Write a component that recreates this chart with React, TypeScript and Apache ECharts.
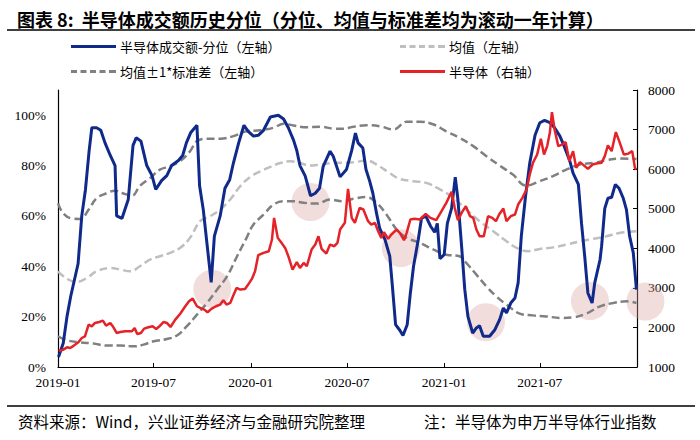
import React, { useEffect, useRef } from "react";
import * as echarts from "echarts";

const xTickLabels = ["2019-01", "2019-07", "2020-01", "2020-07", "2021-01", "2021-07"];

const seriesNames = ["半导体成交额-分位（左轴）", "均值（左轴）", "均值±1*标准差（左轴）", "半导体（右轴）"];

// 半导体成交额-分位 (%)
const turnoverPct: [string, number][] = [
  ["2019-01-02", 4], ["2019-01-11", 9.5], ["2019-01-18", 20], ["2019-01-25", 28], ["2019-02-08", 41],
  ["2019-02-15", 60], ["2019-02-22", 70.5], ["2019-03-01", 86], ["2019-03-06", 95], ["2019-03-15", 95],
  ["2019-03-23", 94], ["2019-03-31", 89], ["2019-04-10", 84], ["2019-04-19", 80], ["2019-04-22", 60],
  ["2019-05-02", 59], ["2019-05-14", 66.5], ["2019-05-23", 88], ["2019-05-29", 91], ["2019-06-07", 89.7],
  ["2019-06-18", 80], ["2019-06-28", 76], ["2019-07-05", 70.5], ["2019-07-16", 74], ["2019-07-26", 76],
  ["2019-08-04", 80], ["2019-08-17", 82], ["2019-08-25", 84], ["2019-09-01", 89], ["2019-09-09", 93],
  ["2019-09-21", 96], ["2019-09-26", 72], ["2019-10-03", 62.5], ["2019-10-10", 49], ["2019-10-18", 33.6],
  ["2019-10-24", 52], ["2019-11-04", 60], ["2019-11-13", 71], ["2019-11-22", 74.4], ["2019-11-29", 81],
  ["2019-12-09", 89], ["2019-12-19", 96], ["2019-12-27", 93.6], ["2020-01-06", 91.7], ["2020-01-15", 92],
  ["2020-01-25", 94], ["2020-02-07", 99.3], ["2020-02-22", 100], ["2020-03-03", 98.5], ["2020-03-12", 95],
  ["2020-03-22", 90], ["2020-03-28", 86], ["2020-04-03", 80], ["2020-04-13", 75.8], ["2020-04-23", 68],
  ["2020-05-02", 69], ["2020-05-10", 71], ["2020-05-17", 79.7], ["2020-05-30", 85.7], ["2020-06-05", 83.7],
  ["2020-06-18", 75.5], ["2020-06-30", 78.4], ["2020-07-10", 86], ["2020-07-17", 92.9], ["2020-07-22", 89],
  ["2020-07-31", 87], ["2020-08-06", 78.4], ["2020-08-13", 73.8], ["2020-08-19", 69], ["2020-08-26", 61],
  ["2020-09-01", 55], ["2020-09-11", 50.6], ["2020-09-20", 44], ["2020-09-25", 32], ["2020-10-01", 16.8],
  ["2020-10-09", 14.6], ["2020-10-15", 12.5], ["2020-10-23", 16.8], ["2020-10-29", 29.4], ["2020-11-04", 40],
  ["2020-11-13", 50.6], ["2020-11-19", 59], ["2020-11-27", 60], ["2020-12-06", 56], ["2020-12-14", 53.5],
  ["2020-12-19", 57], ["2020-12-24", 43], ["2021-01-01", 44.6], ["2021-01-07", 57], ["2021-01-15", 63],
  ["2021-01-22", 75.4], ["2021-01-27", 66.5], ["2021-02-03", 47.9], ["2021-02-09", 30.7], ["2021-02-15", 20],
  ["2021-02-24", 13.5], ["2021-03-03", 15.5], ["2021-03-09", 16.4], ["2021-03-16", 12.2], ["2021-03-28", 12.2],
  ["2021-04-07", 14.8], ["2021-04-16", 18.8], ["2021-04-23", 23.4], ["2021-04-29", 21.5], ["2021-05-07", 25.4],
  ["2021-05-15", 27.4], ["2021-05-21", 33.4], ["2021-05-27", 52], ["2021-06-04", 67.8], ["2021-06-12", 81],
  ["2021-06-22", 92], ["2021-07-01", 97], ["2021-07-10", 97.9], ["2021-07-20", 97], ["2021-07-29", 95],
  ["2021-08-08", 91.7], ["2021-08-15", 88.3], ["2021-08-27", 81.7], ["2021-09-02", 77], ["2021-09-12", 72.5],
  ["2021-09-18", 57], ["2021-09-24", 44], ["2021-09-30", 29.4], ["2021-10-08", 25.4], ["2021-10-13", 33.4],
  ["2021-10-23", 42.6], ["2021-10-26", 48], ["2021-11-01", 63], ["2021-11-07", 67], ["2021-11-14", 67.4],
  ["2021-11-21", 72.5], ["2021-11-28", 71], ["2021-12-06", 67], ["2021-12-12", 62.5], ["2021-12-18", 52],
  ["2021-12-25", 45.3], ["2021-12-31", 30.7],
];

// 均值 (%)
const meanPct: [string, number][] = [
  ["2019-01-01", 38], ["2019-01-18", 35], ["2019-02-06", 33.8], ["2019-02-25", 35.4], ["2019-03-15", 38],
  ["2019-04-10", 39.3], ["2019-04-29", 38.7], ["2019-05-17", 38], ["2019-06-05", 40], ["2019-06-24", 42.6],
  ["2019-07-13", 44], ["2019-08-01", 45.3], ["2019-08-20", 47.3], ["2019-09-08", 51.3], ["2019-09-27", 57.9],
  ["2019-10-16", 59.9], ["2019-11-04", 62.5], ["2019-11-23", 66.5], ["2019-12-12", 71.8], ["2019-12-31", 75.5],
  ["2020-01-19", 77.7], ["2020-02-07", 79.5], ["2020-02-26", 81], ["2020-03-16", 81.7], ["2020-04-03", 81],
  ["2020-04-22", 80], ["2020-05-11", 80.4], ["2020-06-05", 81], ["2020-07-13", 81.3], ["2020-08-07", 82],
  ["2020-08-26", 80.4], ["2020-09-20", 77], ["2020-10-09", 74.7], ["2020-11-03", 73.8], ["2020-11-28", 73.1],
  ["2020-12-24", 70.5], ["2021-01-18", 67.2], ["2021-02-12", 62.5], ["2021-03-09", 57.9], ["2021-04-04", 53.9],
  ["2021-04-29", 49.9], ["2021-05-18", 47.3], ["2021-06-09", 46], ["2021-07-01", 46.9], ["2021-07-26", 47.5],
  ["2021-08-20", 48.6], ["2021-09-15", 49.9], ["2021-10-10", 50.9], ["2021-11-04", 51.9], ["2021-11-29", 53.2],
  ["2021-12-31", 53.9],
];

// 均值 + 1*标准差 (%)
const upperPct: [string, number][] = [
  ["2019-01-01", 65], ["2019-01-11", 61], ["2019-01-27", 59], ["2019-02-12", 58.8], ["2019-02-28", 62.5],
  ["2019-03-15", 67], ["2019-04-03", 69], ["2019-04-19", 70], ["2019-05-05", 68.9], ["2019-05-21", 68],
  ["2019-06-05", 71.9], ["2019-06-24", 75], ["2019-07-13", 78.4], ["2019-08-01", 79.7], ["2019-08-20", 81.7],
  ["2019-09-08", 85.7], ["2019-09-21", 89.7], ["2019-10-10", 90.6], ["2019-11-04", 90.6], ["2019-11-29", 91.7],
  ["2019-12-24", 93.6], ["2020-01-19", 94], ["2020-02-13", 95], ["2020-03-03", 96.6], ["2020-03-22", 95.9],
  ["2020-04-16", 95.2], ["2020-05-11", 95.4], ["2020-06-05", 94.7], ["2020-06-24", 94.6], ["2020-07-13", 95.4],
  ["2020-08-07", 96], ["2020-09-01", 95.6], ["2020-09-27", 94.3], ["2020-10-22", 97.4], ["2020-11-16", 97.4],
  ["2020-12-12", 96.3], ["2021-01-05", 93.6], ["2021-01-30", 91], ["2021-02-25", 87.7], ["2021-03-22", 83.7],
  ["2021-04-16", 80], ["2021-05-11", 76.4], ["2021-06-05", 72], ["2021-07-01", 73.8], ["2021-07-26", 75.8],
  ["2021-08-20", 78.4], ["2021-09-15", 80.4], ["2021-10-10", 81], ["2021-11-04", 82.1], ["2021-11-29", 82.8],
  ["2021-12-31", 82.6],
];

// 均值 - 1*标准差 (%)
const lowerPct: [string, number][] = [
  ["2019-01-01", 12.2], ["2019-01-18", 10.6], ["2019-02-12", 9.8], ["2019-03-09", 9.3], ["2019-04-03", 8.5],
  ["2019-04-29", 8.5], ["2019-05-24", 8.2], ["2019-06-12", 8.9], ["2019-07-01", 10.2], ["2019-07-26", 11.1],
  ["2019-08-14", 12.5], ["2019-09-02", 16.2], ["2019-09-21", 20.8], ["2019-10-10", 25.4], ["2019-10-29", 30.7],
  ["2019-11-17", 36], ["2019-12-06", 44], ["2019-12-24", 51.3], ["2020-01-06", 56.6], ["2020-01-25", 60.5],
  ["2020-02-13", 64.5], ["2020-03-03", 65.8], ["2020-03-22", 65.8], ["2020-04-10", 65.2], ["2020-05-05", 64.9],
  ["2020-05-30", 66.5], ["2020-06-24", 65.8], ["2020-07-13", 66.8], ["2020-08-07", 67.5], ["2020-08-26", 65.2],
  ["2020-09-14", 60.5], ["2020-10-03", 54.6], ["2020-10-22", 51.3], ["2020-11-16", 49.3], ["2020-12-12", 46.6],
  ["2021-01-05", 44.6], ["2021-01-30", 44], ["2021-02-12", 41.3], ["2021-03-03", 36.7], ["2021-03-22", 32],
  ["2021-04-10", 28], ["2021-04-29", 24.8], ["2021-05-24", 21.2], ["2021-06-18", 20.5], ["2021-07-13", 20.1],
  ["2021-08-08", 19.5], ["2021-09-02", 19.7], ["2021-09-27", 21.2], ["2021-10-23", 24.1], ["2021-11-17", 25.4],
  ["2021-12-12", 26.1], ["2021-12-31", 25.4],
];

// 申万半导体指数 (右轴)
const semiIndex: [string, number][] = [
  ["2019-01-02", 1413], ["2019-01-11", 1438], ["2019-01-18", 1497], ["2019-01-24", 1480], ["2019-01-31", 1540],
  ["2019-02-09", 1632], ["2019-02-15", 1733], ["2019-02-21", 1776], ["2019-02-28", 2071], ["2019-03-06", 2029],
  ["2019-03-12", 2113], ["2019-03-20", 2138], ["2019-03-27", 2172], ["2019-04-02", 2046], ["2019-04-10", 2113],
  ["2019-04-16", 2003], ["2019-04-22", 1860], ["2019-04-29", 1885], ["2019-05-08", 1902], ["2019-05-21", 1902],
  ["2019-05-26", 1987], ["2019-05-31", 1835], ["2019-06-07", 1860], ["2019-06-13", 1970], ["2019-06-21", 2003],
  ["2019-06-29", 2029], ["2019-07-06", 1961], ["2019-07-12", 2029], ["2019-07-20", 2138], ["2019-07-26", 2113],
  ["2019-08-02", 2012], ["2019-08-11", 2197], ["2019-08-20", 2341], ["2019-08-30", 2535], ["2019-09-06", 2661],
  ["2019-09-13", 2728], ["2019-09-21", 2535], ["2019-09-27", 2492], ["2019-10-05", 2450], ["2019-10-11", 2383],
  ["2019-10-19", 2476], ["2019-10-27", 2535], ["2019-11-04", 2577], ["2019-11-10", 2686], ["2019-11-16", 2577],
  ["2019-11-23", 2619], ["2019-11-29", 2813], ["2019-12-05", 2998], ["2019-12-12", 2956], ["2019-12-21", 2973],
  ["2019-12-27", 3083], ["2020-01-03", 3226], ["2020-01-09", 3420], ["2020-01-15", 3825], ["2020-01-25", 3884],
  ["2020-02-04", 3926], ["2020-02-10", 4221], ["2020-02-14", 4769], ["2020-02-21", 4263], ["2020-02-28", 4137],
  ["2020-03-06", 4010], ["2020-03-12", 3799], ["2020-03-20", 3462], ["2020-03-28", 3648], ["2020-04-03", 3504],
  ["2020-04-10", 3631], ["2020-04-16", 3546], ["2020-04-25", 3968], ["2020-05-02", 4094], ["2020-05-08", 4305],
  ["2020-05-14", 3985], ["2020-05-23", 3867], ["2020-05-30", 4094], ["2020-06-07", 4052], ["2020-06-13", 4137],
  ["2020-06-18", 4474], ["2020-06-27", 4643], ["2020-07-03", 5503], ["2020-07-10", 4769], ["2020-07-16", 4643],
  ["2020-07-25", 5022], ["2020-08-01", 4980], ["2020-08-10", 4685], ["2020-08-16", 4600], ["2020-08-23", 4643],
  ["2020-08-29", 4432], ["2020-09-04", 4263], ["2020-09-09", 4406], ["2020-09-17", 4238], ["2020-09-23", 4347],
  ["2020-10-03", 4474], ["2020-10-09", 4390], ["2020-10-17", 4204], ["2020-10-22", 4390], ["2020-10-29", 4727],
  ["2020-11-06", 4744], ["2020-11-16", 4727], ["2020-11-27", 4870], ["2020-12-06", 4769], ["2020-12-17", 4710],
  ["2020-12-27", 4938], ["2021-01-05", 5148], ["2021-01-15", 5427], ["2021-01-21", 5022], ["2021-01-27", 4710],
  ["2021-02-03", 4895], ["2021-02-11", 5064], ["2021-02-19", 4811], ["2021-02-25", 4769], ["2021-03-03", 4474],
  ["2021-03-09", 4305], ["2021-03-17", 4305], ["2021-03-25", 4811], ["2021-04-02", 4769], ["2021-04-09", 4685],
  ["2021-04-15", 4853], ["2021-04-23", 5005], ["2021-04-29", 4685], ["2021-05-07", 4811], ["2021-05-15", 4853],
  ["2021-05-21", 5106], ["2021-05-29", 5275], ["2021-06-06", 5486], ["2021-06-12", 5865], ["2021-06-18", 6160],
  ["2021-06-26", 6371], ["2021-07-03", 6767], ["2021-07-09", 6371], ["2021-07-15", 6582], ["2021-07-20", 6919],
  ["2021-07-24", 7442], ["2021-07-29", 7003], ["2021-08-05", 6582], ["2021-08-13", 6624], ["2021-08-19", 6683],
  ["2021-08-26", 6202], ["2021-09-02", 6455], ["2021-09-08", 6034], ["2021-09-15", 6177], ["2021-09-24", 6076],
  ["2021-09-30", 6008], ["2021-10-09", 6118], ["2021-10-16", 6143], ["2021-10-26", 6160], ["2021-11-01", 6329],
  ["2021-11-07", 6599], ["2021-11-14", 6455], ["2021-11-22", 6936], ["2021-11-29", 6683], ["2021-12-07", 6371],
  ["2021-12-15", 6388], ["2021-12-23", 6455], ["2021-12-28", 6034], ["2021-12-31", 5991],
];

// highlighted low-percentile spots (left axis, %)
const highlightSpots: [string, number][] = [
  ["2019-10-20", 31], ["2020-04-23", 65.5], ["2020-10-11", 47.2],
  ["2021-03-21", 17.8], ["2021-10-04", 26.2], ["2022-01-17", 26],
];

const titleText = "图表 8:  半导体成交额历史分位（分位、均值与标准差均为滚动一年计算）";
const sourceText = "资料来源：Wind，兴业证券经济与金融研究院整理";
const noteText = "注：半导体为申万半导体行业指数";

const dateTs = (s: string) => {
  const [y, m, d] = s.split("-").map(Number);
  return new Date(y, m - 1, d || 1).getTime();
};
const toXY = (arr: [string, number][]) => arr.map(([d, v]) => [dateTs(d), v]);

const solidIcon = "path://M0,0h45v3h-45z";
const dashIcon = "path://M0,0h6v3h-6zM9.5,0h6v3h-6zM19,0h6v3h-6zM28.5,0h6v3h-6zM38,0h7v3h-7z";

export default function App() {
  const ref = useRef<HTMLDivElement>(null);
  useEffect(() => {
    if (!ref.current) return;
    const chart = echarts.init(ref.current, undefined, { renderer: "svg" });
    const tickValues = xTickLabels.map(dateTs);
    const serif = "'Liberation Serif', 'Times New Roman', serif";
    const cjk = "'Noto Sans CJK SC', sans-serif";
    const legendCommon = {
      orient: "horizontal",
      itemWidth: 45,
      itemHeight: 3,
      itemGap: 0,
      padding: 0,
      textStyle: { fontSize: 13, color: "#000", fontFamily: cjk, padding: [0, 0, 0, -1] },
      selectedMode: false,
    };
    chart.setOption({
      animation: false,
      backgroundColor: "#fff",
      title: {
        text: titleText,
        left: 17,
        top: 10,
        padding: 0,
        textStyle: { fontSize: 18, fontWeight: "bold", color: "#000", fontFamily: cjk },
      },
      legend: [
        { ...legendCommon, left: 71, top: 40, data: [{ name: seriesNames[0], icon: solidIcon }] },
        { ...legendCommon, left: 400, top: 40, data: [{ name: seriesNames[1], icon: dashIcon }] },
        { ...legendCommon, left: 71, top: 65, data: [{ name: seriesNames[2], icon: dashIcon }] },
        { ...legendCommon, left: 400, top: 65, data: [{ name: seriesNames[3], icon: solidIcon }] },
      ],
      graphic: [
        { type: "line", shape: { x1: 7, y1: 30, x2: 695, y2: 30 }, style: { stroke: "#000", lineWidth: 1.5 } },
        { type: "line", shape: { x1: 7, y1: 406, x2: 695, y2: 406 }, style: { stroke: "#000", lineWidth: 1.5 } },
        {
          type: "text", left: 18, top: 413,
          style: { text: sourceText, fontSize: 15.5, fill: "#000", fontFamily: cjk },
        },
        {
          type: "text", left: 424, top: 413,
          style: { text: noteText, fontSize: 15.5, fill: "#000", fontFamily: cjk },
        },
      ],
      grid: { left: 58, right: 63, top: 90, height: 277, containLabel: false },
      xAxis: {
        type: "value",
        min: dateTs("2019-01-01"),
        max: dateTs("2022-01-01"),
        axisLine: { show: true, lineStyle: { color: "#000", width: 1.2 } },
        axisTick: { show: true, inside: true, length: 4, customValues: tickValues, lineStyle: { color: "#000" } },
        axisLabel: {
          customValues: tickValues,
          margin: 8,
          fontSize: 13.5,
          color: "#000",
          fontFamily: serif,
          formatter: (v: number) => {
            const d = new Date(v);
            return `${d.getFullYear()}-${String(d.getMonth() + 1).padStart(2, "0")}`;
          },
        },
        splitLine: { show: false },
      },
      yAxis: [
        {
          type: "value",
          min: 0,
          max: 110,
          interval: 20,
          position: "left",
          axisLine: { show: true, lineStyle: { color: "#000", width: 1.2 } },
          axisTick: { show: false },
          splitLine: { show: false },
          axisLabel: {
            margin: 12,
            fontSize: 13.5,
            color: "#000",
            fontFamily: serif,
            formatter: (v: number) => (v > 100 ? "" : `${v}%`),
          },
        },
        {
          type: "value",
          min: 1000,
          max: 8000,
          interval: 1000,
          position: "right",
          axisLine: { show: true, lineStyle: { color: "#000", width: 1.2 } },
          axisTick: { show: true, inside: true, length: 4, lineStyle: { color: "#000" } },
          splitLine: { show: false },
          axisLabel: {
            margin: 11,
            fontSize: 13.5,
            color: "#000",
            fontFamily: serif,
            formatter: (v: number) => String(v),
          },
        },
      ],
      series: [
        {
          type: "scatter",
          name: "spots",
          data: toXY(highlightSpots),
          yAxisIndex: 0,
          symbol: "circle",
          symbolSize: 38,
          clip: false,
          silent: true,
          itemStyle: { color: "rgba(220,160,160,0.45)" },
        },
        {
          type: "line",
          name: seriesNames[1],
          data: toXY(meanPct),
          yAxisIndex: 0,
          symbol: "none",
          smooth: 0.4,
          lineStyle: { color: "#bfbfbf", width: 2.5, type: [8, 4] },
          itemStyle: { color: "#bfbfbf" },
        },
        {
          type: "line",
          name: seriesNames[2],
          data: toXY(upperPct),
          yAxisIndex: 0,
          symbol: "none",
          smooth: 0.4,
          lineStyle: { color: "#808080", width: 2.5, type: [8, 4] },
          itemStyle: { color: "#808080" },
        },
        {
          type: "line",
          name: seriesNames[2],
          data: toXY(lowerPct),
          yAxisIndex: 0,
          symbol: "none",
          smooth: 0.4,
          lineStyle: { color: "#808080", width: 2.5, type: [8, 4] },
          itemStyle: { color: "#808080" },
        },
        {
          type: "line",
          name: seriesNames[0],
          data: toXY(turnoverPct),
          yAxisIndex: 0,
          symbol: "none",
          lineStyle: { color: "#0f2a8a", width: 3 },
          itemStyle: { color: "#0f2a8a" },
        },
        {
          type: "line",
          name: seriesNames[3],
          data: toXY(semiIndex),
          yAxisIndex: 1,
          symbol: "none",
          lineStyle: { color: "#e42228", width: 2.5 },
          itemStyle: { color: "#e42228" },
        },
      ],
    });
    return () => chart.dispose();
  }, []);
  return (
    <div
      ref={ref}
      style={{ position: "fixed", left: 0, top: 0, width: 700, height: 440, background: "#fff" }}
    />
  );
}
